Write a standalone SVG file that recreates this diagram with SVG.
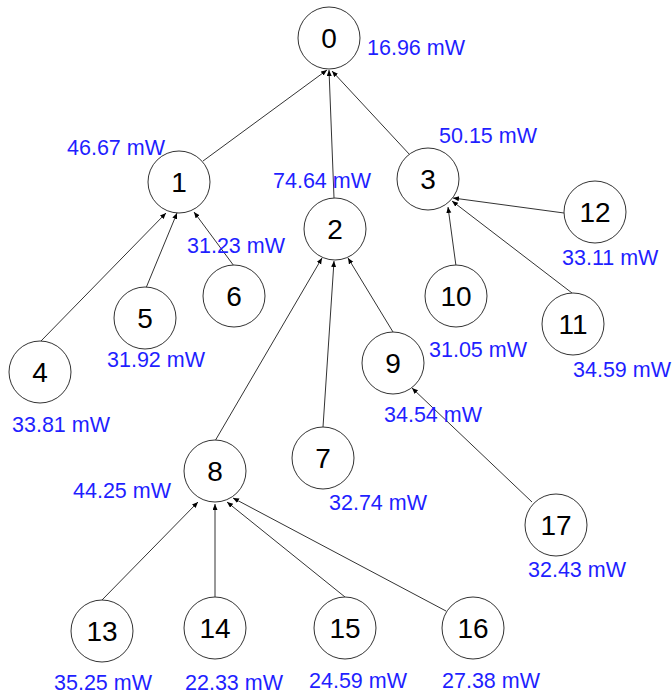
<svg xmlns="http://www.w3.org/2000/svg" width="672" height="696" viewBox="0 0 672 696">
  <style>
    .node circle { fill: #ffffff; stroke: #333333; stroke-width: 1; }
    .node text { font-family: "Liberation Sans", Arial, sans-serif; font-size: 28px; fill: #000000; text-anchor: middle; }
    .power { font-family: "Liberation Sans", Arial, sans-serif; font-size: 21.5px; fill: #1f1fff; }
    .edges line { stroke: #333333; stroke-width: 1; marker-end: url(#arrow); }
  </style>
  <defs>
    <marker id="arrow" markerUnits="userSpaceOnUse" markerWidth="8" markerHeight="8" refX="6" refY="2.5" orient="auto">
      <path d="M0,0 L6,2.5 L0,5 Z" fill="#000000"/>
    </marker>
  </defs>
  <rect width="672" height="696" fill="#ffffff"/>

  <!-- connectors: child to parent -->
  <g id="edges" class="edges">
    <line x1="203" y1="161" x2="327" y2="70"/>
    <line x1="334" y1="198" x2="329" y2="70"/>
    <line x1="410" y1="155" x2="332" y2="71"/>
    <line x1="41" y1="341" x2="166" y2="213"/>
    <line x1="146" y1="288" x2="177" y2="213"/>
    <line x1="234" y1="266" x2="194" y2="212"/>
    <line x1="215" y1="441" x2="322" y2="258"/>
    <line x1="323" y1="427" x2="334" y2="261"/>
    <line x1="393" y1="332" x2="348" y2="258"/>
    <line x1="564" y1="213" x2="453" y2="198"/>
    <line x1="456" y1="266" x2="448" y2="207"/>
    <line x1="572" y1="293" x2="452" y2="201"/>
    <line x1="532" y1="502" x2="412" y2="388"/>
    <line x1="102" y1="600" x2="198" y2="502"/>
    <line x1="215" y1="597" x2="215" y2="504"/>
    <line x1="345" y1="597" x2="227" y2="502"/>
    <line x1="446" y1="611" x2="233" y2="498"/>
  </g>

  <g id="node-0" class="node"><circle cx="329" cy="38" r="31"/><text x="329" y="48">0</text></g>
  <g id="node-1" class="node"><circle cx="179" cy="182" r="31"/><text x="179" y="192">1</text></g>
  <g id="node-2" class="node"><circle cx="335" cy="229" r="31"/><text x="335" y="239">2</text></g>
  <g id="node-3" class="node"><circle cx="428" cy="179" r="31"/><text x="428" y="189">3</text></g>
  <g id="node-4" class="node"><circle cx="40" cy="372" r="31"/><text x="40" y="382">4</text></g>
  <g id="node-5" class="node"><circle cx="145" cy="318" r="31"/><text x="145" y="328">5</text></g>
  <g id="node-6" class="node"><circle cx="234" cy="296" r="31"/><text x="234" y="306">6</text></g>
  <g id="node-7" class="node"><circle cx="323" cy="458" r="31"/><text x="323" y="468">7</text></g>
  <g id="node-8" class="node"><circle cx="215" cy="471" r="31"/><text x="215" y="481">8</text></g>
  <g id="node-9" class="node"><circle cx="393" cy="363" r="31"/><text x="393" y="373">9</text></g>
  <g id="node-10" class="node"><circle cx="456" cy="296" r="31"/><text x="456" y="306">10</text></g>
  <g id="node-11" class="node"><circle cx="573" cy="324" r="31"/><text x="573" y="334">11</text></g>
  <g id="node-12" class="node"><circle cx="595" cy="212" r="31"/><text x="595" y="222">12</text></g>
  <g id="node-13" class="node"><circle cx="102" cy="631" r="31"/><text x="102" y="641">13</text></g>
  <g id="node-14" class="node"><circle cx="215" cy="628" r="31"/><text x="215" y="638">14</text></g>
  <g id="node-15" class="node"><circle cx="345" cy="628" r="31"/><text x="345" y="638">15</text></g>
  <g id="node-16" class="node"><circle cx="473" cy="628" r="31"/><text x="473" y="638">16</text></g>
  <g id="node-17" class="node"><circle cx="556" cy="525" r="31"/><text x="556" y="535">17</text></g>

  <!-- power readings -->
  <g id="labels">
    <text class="power" x="367" y="55">16.96 mW</text>
    <text class="power" x="67" y="155">46.67 mW</text>
    <text class="power" x="273" y="188">74.64 mW</text>
    <text class="power" x="439" y="143">50.15 mW</text>
    <text class="power" x="12" y="432">33.81 mW</text>
    <text class="power" x="107" y="367">31.92 mW</text>
    <text class="power" x="187" y="253">31.23 mW</text>
    <text class="power" x="329" y="510">32.74 mW</text>
    <text class="power" x="73" y="498">44.25 mW</text>
    <text class="power" x="384" y="422">34.54 mW</text>
    <text class="power" x="429" y="357">31.05 mW</text>
    <text class="power" x="573" y="377">34.59 mW</text>
    <text class="power" x="562" y="265">33.11 mW</text>
    <text class="power" x="54" y="690">35.25 mW</text>
    <text class="power" x="185" y="690">22.33 mW</text>
    <text class="power" x="309" y="688">24.59 mW</text>
    <text class="power" x="442" y="688">27.38 mW</text>
    <text class="power" x="528" y="577">32.43 mW</text>
  </g>
</svg>
